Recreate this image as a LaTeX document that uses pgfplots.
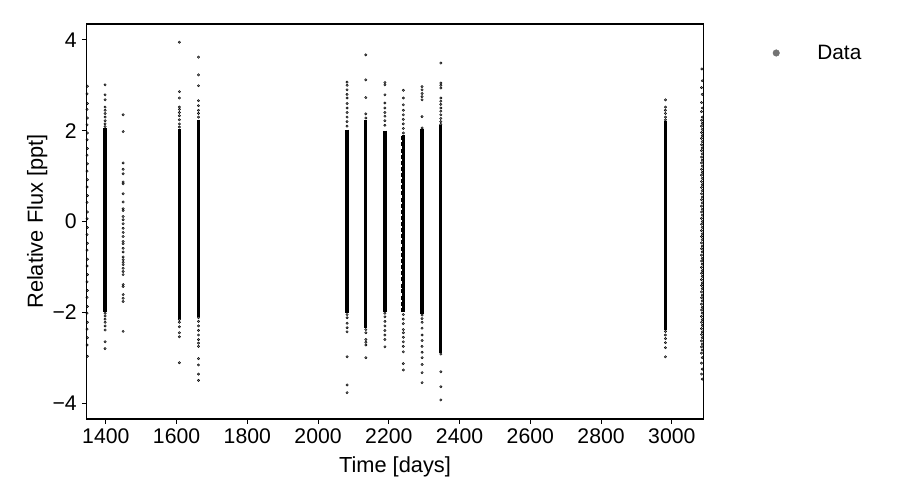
\documentclass[border=0pt]{standalone}
\usepackage{fontspec}
\setmainfont{Liberation Sans}
\usepackage{pgfplots}
\pgfplotsset{compat=1.18}
\begin{document}
\begin{tikzpicture}
\useasboundingbox (0bp,0bp) rectangle (900bp,500bp);
\begin{axis}[
 at={(86.7bp,81bp)}, anchor=south west,
 width=616.6bp, height=395bp, scale only axis,
 xmin=1346, xmax=3089, ymin=-4.35, ymax=4.35,
 xtick={1400,1600,1800,2000,2200,2400,2600,2800,3000},
 xticklabels={1400,1600,1800,2000,2200,2400,2600,2800,3000},
 ytick={-4,-2,0,2,4},
 yticklabels={−4,−2,0,2,4},
 tick align=outside, xtick pos=bottom, ytick pos=left,
 major tick length=4.86bp,
 every tick/.style={black, line width=1.1bp},
 axis line style={line width=1.1bp},
 axis on top,
 tick label style={font=\fontsize{21.2bp}{25bp}\selectfont, inner sep=0pt},
 xticklabel shift=4.86bp, yticklabel shift=4.86bp,
 xlabel={Time [days]}, ylabel={Relative Flux [ppt]},
 label style={font=\fontsize{21.8bp}{26bp}\selectfont, inner sep=0pt},
 xlabel style={at={(axis description cs:0.5,-0.0954)}, anchor=north},
 ylabel style={at={(axis description cs:-0.0633,0.5)}, anchor=south},
 legend style={at={(1.11255,0.9266)}, anchor=west, draw=none, fill=none, inner sep=0pt, outer sep=0pt, font=\fontsize{20.8bp}{25bp}\selectfont, nodes={inner sep=0pt}, /tikz/every odd column/.append style={column sep=37.7bp}},
 legend cell align=left,
]
\addplot[only marks, mark=*, mark size=1.2bp, mark options={draw=none, fill=black, fill opacity=0.5},
 legend image code/.code={\fill[black!55] (3.3bp,0bp) circle (3.3bp);}] table {
x y
1348 2.98
1347 2.81
1348 2.60
1347 2.47
1348 2.28
1347 2.13
1348 1.95
1347 1.80
1348 1.61
1347 1.46
1348 1.27
1347 1.11
1348 0.92
1347 0.76
1348 0.57
1347 0.42
1348 0.21
1347 0.06
1348 -0.13
1347 -0.29
1348 -0.48
1347 -0.63
1348 -0.83
1347 -0.98
1348 -1.17
1347 -1.33
1348 -1.52
1347 -1.67
1348 -1.87
1347 -2.02
1348 -2.22
1347 -2.37
1348 -2.56
1347 -2.72
1348 -2.97
1398 3.01
1398 2.79
1398 2.68
1398 2.52
1398 2.45
1398 2.38
1398 2.30
1398 2.22
1398 2.15
1398 2.09
1398 -2.02
1398 -2.08
1398 -2.15
1398 -2.22
1398 -2.30
1398 -2.39
1398 -2.65
1398 -2.80
1449 2.35
1449 1.98
1449 1.29
1449 1.15
1449 1.05
1449 0.87
1449 0.83
1449 0.61
1449 0.43
1449 0.28
1449 0.24
1449 0.11
1449 0.04
1449 -0.05
1449 -0.15
1449 -0.24
1449 -0.33
1449 -0.44
1449 -0.49
1449 -0.59
1449 -0.67
1449 -0.78
1449 -0.84
1449 -0.90
1449 -0.95
1449 -1.03
1449 -1.10
1449 -1.17
1449 -1.39
1449 -1.43
1449 -1.61
1449 -1.69
1449 -1.76
1449 -2.42
1608 3.95
1608 2.86
1608 2.72
1608 2.52
1608 2.47
1608 2.40
1608 2.33
1608 2.24
1608 2.15
1608 2.08
1608 -2.16
1608 -2.22
1608 -2.32
1608 -2.45
1608 -2.54
1608 -3.11
1662 3.62
1662 3.23
1662 2.99
1662 2.66
1662 2.55
1662 2.45
1662 2.38
1662 2.30
1662 -2.12
1662 -2.20
1662 -2.30
1662 -2.40
1662 -2.50
1662 -2.60
1662 -2.68
1662 -2.75
1662 -3.02
1662 -3.16
1662 -3.36
1662 -3.50
2082 3.07
2082 3.00
2082 2.90
2082 2.80
2082 2.72
2082 2.60
2082 2.50
2082 2.40
2082 2.30
2082 2.20
2082 2.10
2082 -2.05
2082 -2.12
2082 -2.24
2082 -2.34
2082 -2.43
2082 -2.98
2082 -3.60
2082 -3.77
2135 3.67
2135 3.12
2135 2.73
2135 2.37
2135 2.28
2135 -2.38
2135 -2.45
2135 -2.60
2135 -2.66
2135 -2.72
2135 -3.00
2189 3.06
2189 3.01
2189 2.79
2189 2.61
2189 2.50
2189 2.40
2189 2.32
2189 2.22
2189 2.12
2189 -2.02
2189 -2.10
2189 -2.20
2189 -2.30
2189 -2.40
2189 -2.50
2189 -2.60
2189 -2.76
2241 2.89
2241 2.72
2241 2.57
2241 2.45
2241 2.35
2241 2.25
2241 2.15
2241 2.05
2241 1.95
2241 -2.05
2241 -2.15
2241 -2.25
2241 -2.38
2241 -2.45
2241 -2.55
2241 -2.65
2241 -2.75
2241 -2.87
2241 -3.13
2241 -3.27
2294 2.97
2294 2.90
2294 2.82
2294 2.75
2294 2.68
2294 2.31
2294 2.06
2294 -2.06
2294 -2.14
2294 -2.22
2294 -2.35
2294 -2.50
2294 -2.62
2294 -2.75
2294 -2.88
2294 -3.00
2294 -3.15
2294 -3.33
2294 -3.55
2347 3.49
2347 3.05
2347 3.00
2347 2.94
2347 2.72
2347 2.65
2347 2.58
2347 2.50
2347 2.43
2347 2.35
2347 2.27
2347 2.20
2347 2.14
2347 -2.92
2347 -3.31
2347 -3.64
2347 -3.93
2982 2.68
2982 2.52
2982 2.45
2982 2.38
2982 2.30
2982 2.24
2982 -2.42
2982 -2.50
2982 -2.58
2982 -2.67
2982 -2.78
2982 -2.98
3085 3.36
3086 3.10
3084 2.95
3086 2.80
3084 2.62
3086 2.50
3084 2.42
3086 2.30
3084 2.23
3086 2.16
3084 2.10
3086 2.03
3084 1.96
3086 1.89
3084 1.83
3086 1.76
3084 1.69
3086 1.62
3084 1.56
3086 1.49
3084 1.42
3086 1.35
3084 1.29
3086 1.22
3084 1.15
3086 1.08
3084 1.02
3086 0.95
3084 0.88
3086 0.81
3084 0.75
3086 0.68
3084 0.61
3086 0.54
3084 0.48
3086 0.41
3084 0.34
3086 0.27
3084 0.21
3086 0.14
3084 0.07
3086 0.00
3084 -0.06
3086 -0.13
3084 -0.20
3086 -0.27
3084 -0.33
3086 -0.40
3084 -0.47
3086 -0.54
3084 -0.60
3086 -0.67
3084 -0.74
3086 -0.81
3084 -0.87
3086 -0.94
3084 -1.01
3086 -1.08
3084 -1.14
3086 -1.21
3084 -1.28
3086 -1.35
3084 -1.41
3086 -1.48
3084 -1.55
3086 -1.62
3084 -1.68
3086 -1.75
3084 -1.82
3086 -1.89
3084 -1.95
3086 -2.02
3084 -2.09
3086 -2.16
3084 -2.22
3086 -2.29
3084 -2.36
3086 -2.43
3084 -2.49
3086 -2.56
3084 -2.63
3086 -2.70
3084 -2.76
3086 -2.83
3084 -2.90
3086 -3.00
3084 -3.12
3086 -3.25
3084 -3.36
3086 -3.47
};
\addlegendentry{Data}
\addplot[forget plot, only marks, mark=|, mark size=2bp, mark options={line width=3.2bp, black}] table {
x y
1398 -1.95
1398 -1.88
1398 -1.82
1398 -1.74
1398 -1.68
1398 -1.61
1398 -1.55
1398 -1.47
1398 -1.41
1398 -1.34
1398 -1.27
1398 -1.21
1398 -1.13
1398 -1.07
1398 -1.00
1398 -0.93
1398 -0.87
1398 -0.80
1398 -0.73
1398 -0.66
1398 -0.60
1398 -0.52
1398 -0.46
1398 -0.39
1398 -0.32
1398 -0.26
1398 -0.19
1398 -0.12
1398 -0.05
1398 0.01
1398 0.08
1398 0.15
1398 0.21
1398 0.28
1398 0.35
1398 0.42
1398 0.48
1398 0.55
1398 0.62
1398 0.68
1398 0.75
1398 0.82
1398 0.89
1398 0.95
1398 1.02
1398 1.09
1398 1.15
1398 1.22
1398 1.29
1398 1.36
1398 1.42
1398 1.49
1398 1.56
1398 1.62
1398 1.69
1398 1.76
1398 1.83
1398 1.89
1398 1.96
1398 2.02
1608 -2.10
1608 -2.03
1608 -1.97
1608 -1.90
1608 -1.83
1608 -1.76
1608 -1.70
1608 -1.63
1608 -1.56
1608 -1.49
1608 -1.43
1608 -1.36
1608 -1.29
1608 -1.22
1608 -1.16
1608 -1.09
1608 -1.02
1608 -0.95
1608 -0.89
1608 -0.82
1608 -0.75
1608 -0.68
1608 -0.62
1608 -0.55
1608 -0.48
1608 -0.41
1608 -0.35
1608 -0.28
1608 -0.21
1608 -0.14
1608 -0.08
1608 -0.01
1608 0.06
1608 0.13
1608 0.19
1608 0.26
1608 0.33
1608 0.40
1608 0.46
1608 0.53
1608 0.60
1608 0.67
1608 0.73
1608 0.80
1608 0.87
1608 0.94
1608 1.00
1608 1.07
1608 1.14
1608 1.21
1608 1.27
1608 1.34
1608 1.41
1608 1.48
1608 1.54
1608 1.61
1608 1.68
1608 1.75
1608 1.81
1608 1.88
1608 1.94
1608 2.00
1662 -2.05
1662 -1.98
1662 -1.91
1662 -1.85
1662 -1.78
1662 -1.71
1662 -1.64
1662 -1.58
1662 -1.51
1662 -1.44
1662 -1.37
1662 -1.31
1662 -1.24
1662 -1.17
1662 -1.10
1662 -1.04
1662 -0.97
1662 -0.90
1662 -0.83
1662 -0.77
1662 -0.70
1662 -0.63
1662 -0.56
1662 -0.50
1662 -0.43
1662 -0.36
1662 -0.29
1662 -0.23
1662 -0.16
1662 -0.09
1662 -0.02
1662 0.04
1662 0.11
1662 0.18
1662 0.25
1662 0.31
1662 0.38
1662 0.45
1662 0.52
1662 0.58
1662 0.65
1662 0.72
1662 0.79
1662 0.85
1662 0.92
1662 0.99
1662 1.06
1662 1.12
1662 1.19
1662 1.26
1662 1.33
1662 1.39
1662 1.46
1662 1.53
1662 1.60
1662 1.66
1662 1.73
1662 1.80
1662 1.87
1662 1.93
1662 2.00
1662 2.07
1662 2.14
1662 2.20
2082 -1.98
2082 -1.91
2082 -1.85
2082 -1.78
2082 -1.71
2082 -1.65
2082 -1.58
2082 -1.51
2082 -1.44
2082 -1.38
2082 -1.31
2082 -1.24
2082 -1.18
2082 -1.11
2082 -1.04
2082 -0.97
2082 -0.91
2082 -0.84
2082 -0.77
2082 -0.71
2082 -0.64
2082 -0.57
2082 -0.50
2082 -0.44
2082 -0.37
2082 -0.30
2082 -0.24
2082 -0.17
2082 -0.10
2082 -0.03
2082 0.03
2082 0.10
2082 0.17
2082 0.23
2082 0.30
2082 0.37
2082 0.44
2082 0.50
2082 0.57
2082 0.64
2082 0.70
2082 0.77
2082 0.84
2082 0.91
2082 0.97
2082 1.04
2082 1.11
2082 1.17
2082 1.24
2082 1.31
2082 1.38
2082 1.44
2082 1.51
2082 1.58
2082 1.64
2082 1.71
2082 1.78
2082 1.85
2082 1.91
2082 1.98
2135 -2.30
2135 -2.23
2135 -2.16
2135 -2.10
2135 -2.03
2135 -1.96
2135 -1.89
2135 -1.83
2135 -1.76
2135 -1.69
2135 -1.62
2135 -1.56
2135 -1.49
2135 -1.42
2135 -1.35
2135 -1.29
2135 -1.22
2135 -1.15
2135 -1.08
2135 -1.02
2135 -0.95
2135 -0.88
2135 -0.81
2135 -0.75
2135 -0.68
2135 -0.61
2135 -0.54
2135 -0.48
2135 -0.41
2135 -0.34
2135 -0.27
2135 -0.21
2135 -0.14
2135 -0.07
2135 0.00
2135 0.06
2135 0.13
2135 0.20
2135 0.27
2135 0.33
2135 0.40
2135 0.47
2135 0.54
2135 0.60
2135 0.67
2135 0.74
2135 0.81
2135 0.87
2135 0.94
2135 1.01
2135 1.08
2135 1.14
2135 1.21
2135 1.28
2135 1.35
2135 1.41
2135 1.48
2135 1.55
2135 1.62
2135 1.68
2135 1.75
2135 1.82
2135 1.89
2135 1.95
2135 2.02
2135 2.09
2135 2.15
2135 2.20
2189 -1.95
2189 -1.89
2189 -1.82
2189 -1.75
2189 -1.68
2189 -1.62
2189 -1.55
2189 -1.48
2189 -1.41
2189 -1.35
2189 -1.28
2189 -1.21
2189 -1.14
2189 -1.08
2189 -1.01
2189 -0.94
2189 -0.87
2189 -0.81
2189 -0.74
2189 -0.67
2189 -0.60
2189 -0.54
2189 -0.47
2189 -0.40
2189 -0.33
2189 -0.27
2189 -0.20
2189 -0.13
2189 -0.06
2189 0.00
2189 0.07
2189 0.14
2189 0.21
2189 0.27
2189 0.34
2189 0.41
2189 0.48
2189 0.54
2189 0.61
2189 0.68
2189 0.75
2189 0.81
2189 0.88
2189 0.95
2189 1.02
2189 1.08
2189 1.15
2189 1.22
2189 1.29
2189 1.35
2189 1.42
2189 1.49
2189 1.56
2189 1.62
2189 1.69
2189 1.76
2189 1.83
2189 1.89
2189 1.96
2240 -1.95
2242 -1.88
2240 -1.81
2242 -1.75
2240 -1.68
2242 -1.61
2240 -1.54
2242 -1.48
2240 -1.41
2242 -1.34
2240 -1.27
2242 -1.21
2240 -1.14
2242 -1.07
2240 -1.00
2242 -0.94
2240 -0.87
2242 -0.80
2240 -0.73
2242 -0.67
2240 -0.60
2242 -0.53
2240 -0.46
2242 -0.40
2240 -0.33
2242 -0.26
2240 -0.19
2242 -0.13
2240 -0.06
2242 0.01
2240 0.08
2242 0.14
2240 0.21
2242 0.28
2240 0.35
2242 0.41
2240 0.48
2242 0.55
2240 0.62
2242 0.68
2240 0.75
2242 0.82
2240 0.89
2242 0.95
2240 1.02
2242 1.09
2240 1.16
2242 1.22
2240 1.29
2242 1.36
2240 1.43
2242 1.49
2240 1.56
2242 1.63
2240 1.70
2242 1.76
2240 1.83
2242 1.87
2294 -1.99
2294 -1.92
2294 -1.86
2294 -1.79
2294 -1.72
2294 -1.65
2294 -1.59
2294 -1.52
2294 -1.45
2294 -1.38
2294 -1.32
2294 -1.25
2294 -1.18
2294 -1.11
2294 -1.05
2294 -0.98
2294 -0.91
2294 -0.84
2294 -0.78
2294 -0.71
2294 -0.64
2294 -0.57
2294 -0.51
2294 -0.44
2294 -0.37
2294 -0.30
2294 -0.24
2294 -0.17
2294 -0.10
2294 -0.03
2294 0.04
2294 0.10
2294 0.17
2294 0.24
2294 0.31
2294 0.37
2294 0.44
2294 0.51
2294 0.58
2294 0.64
2294 0.71
2294 0.78
2294 0.85
2294 0.91
2294 0.98
2294 1.05
2294 1.12
2294 1.18
2294 1.25
2294 1.32
2294 1.39
2294 1.45
2294 1.52
2294 1.59
2294 1.66
2294 1.72
2294 1.79
2294 1.86
2294 1.93
2294 2.00
2347 -2.85
2347 -2.78
2347 -2.71
2347 -2.65
2347 -2.58
2347 -2.51
2347 -2.44
2347 -2.38
2347 -2.31
2347 -2.24
2347 -2.17
2347 -2.11
2347 -2.04
2347 -1.97
2347 -1.90
2347 -1.84
2347 -1.77
2347 -1.70
2347 -1.63
2347 -1.57
2347 -1.50
2347 -1.43
2347 -1.36
2347 -1.30
2347 -1.23
2347 -1.16
2347 -1.09
2347 -1.03
2347 -0.96
2347 -0.89
2347 -0.82
2347 -0.76
2347 -0.69
2347 -0.62
2347 -0.55
2347 -0.49
2347 -0.42
2347 -0.35
2347 -0.28
2347 -0.22
2347 -0.15
2347 -0.08
2347 -0.01
2347 0.05
2347 0.12
2347 0.19
2347 0.26
2347 0.32
2347 0.39
2347 0.46
2347 0.53
2347 0.59
2347 0.66
2347 0.73
2347 0.80
2347 0.86
2347 0.93
2347 1.00
2347 1.07
2347 1.13
2347 1.20
2347 1.27
2347 1.34
2347 1.40
2347 1.47
2347 1.54
2347 1.61
2347 1.67
2347 1.74
2347 1.81
2347 1.88
2347 1.94
2347 2.01
2347 2.09
2982 -2.35
2982 -2.28
2982 -2.22
2982 -2.15
2982 -2.08
2982 -2.01
2982 -1.95
2982 -1.88
2982 -1.81
2982 -1.74
2982 -1.68
2982 -1.61
2982 -1.54
2982 -1.47
2982 -1.41
2982 -1.34
2982 -1.27
2982 -1.20
2982 -1.14
2982 -1.07
2982 -1.00
2982 -0.93
2982 -0.87
2982 -0.80
2982 -0.73
2982 -0.66
2982 -0.60
2982 -0.53
2982 -0.46
2982 -0.39
2982 -0.33
2982 -0.26
2982 -0.19
2982 -0.12
2982 -0.06
2982 0.01
2982 0.08
2982 0.15
2982 0.21
2982 0.28
2982 0.35
2982 0.42
2982 0.48
2982 0.55
2982 0.62
2982 0.69
2982 0.75
2982 0.82
2982 0.89
2982 0.96
2982 1.02
2982 1.09
2982 1.16
2982 1.23
2982 1.29
2982 1.36
2982 1.43
2982 1.50
2982 1.56
2982 1.63
2982 1.70
2982 1.77
2982 1.83
2982 1.90
2982 1.97
2982 2.04
2982 2.10
2982 2.17
};
\end{axis}
\end{tikzpicture}
\end{document}
